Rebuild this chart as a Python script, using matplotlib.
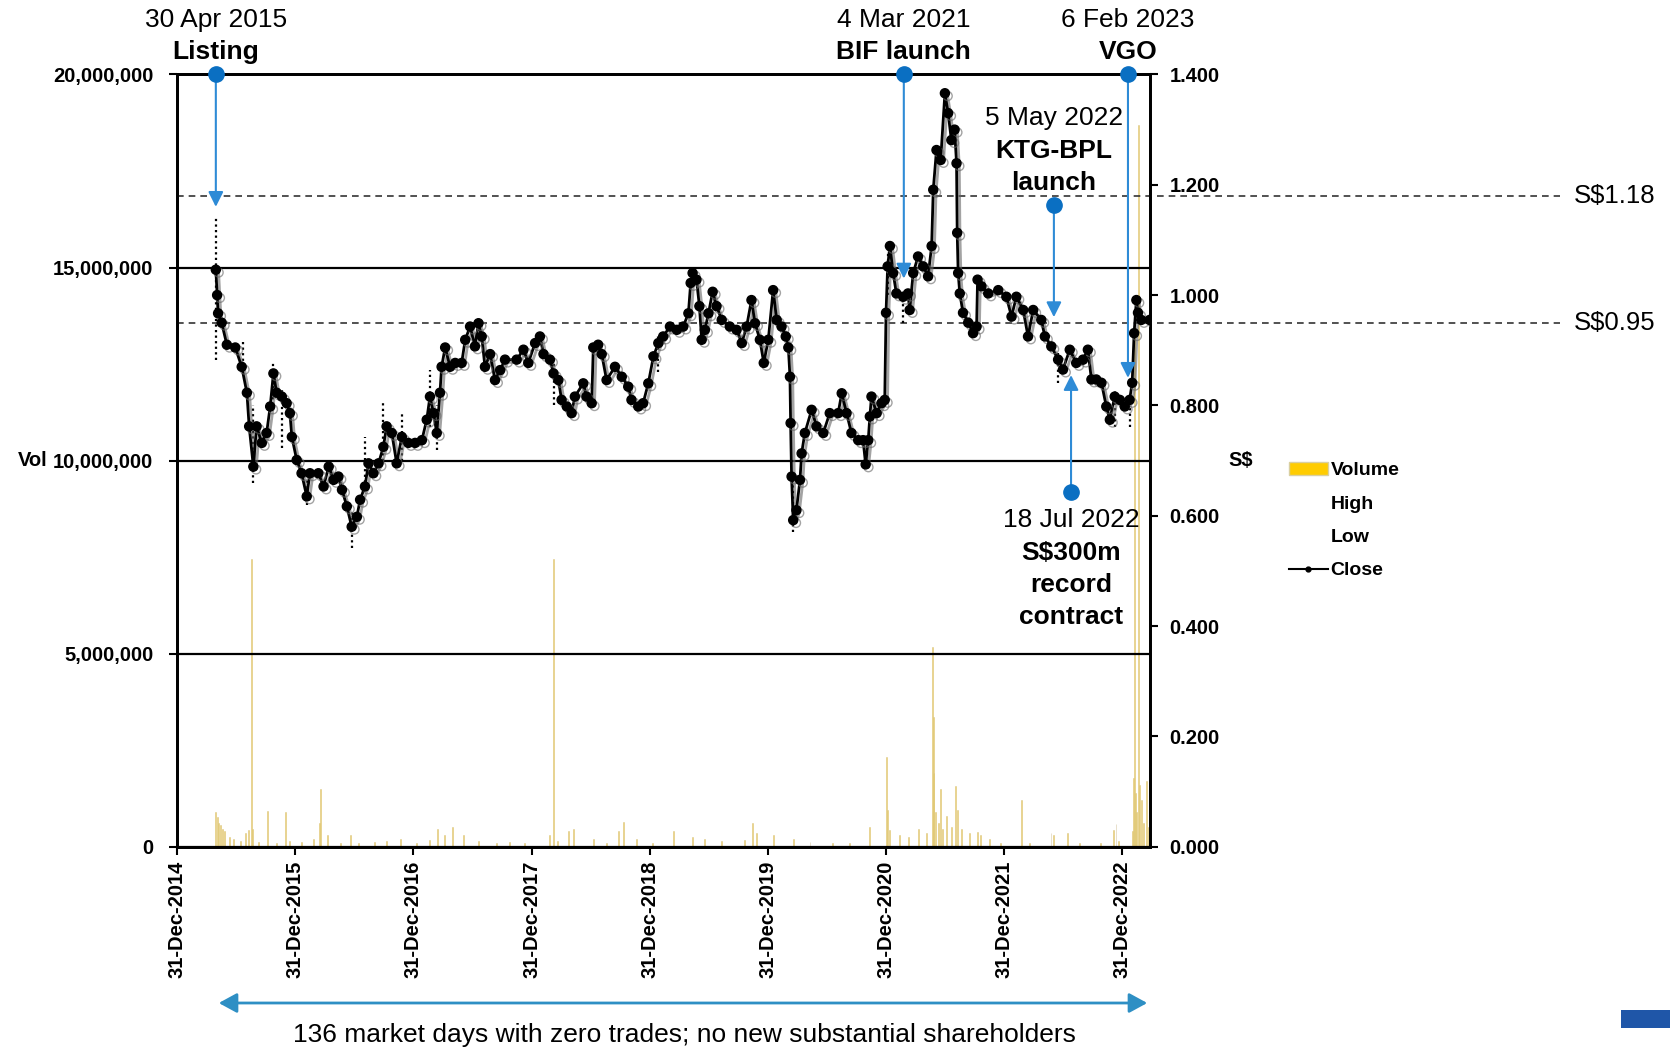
import matplotlib
matplotlib.use("Agg")
import matplotlib.pyplot as plt
import matplotlib.dates as mdates
import matplotlib.patheffects as pe
from matplotlib.lines import Line2D
from matplotlib.patches import Patch, Rectangle, FancyArrowPatch
from matplotlib.ticker import FuncFormatter
import pandas as pd

plt.rcParams["font.family"] = ["Liberation Sans", "DejaVu Sans"]

# ==================================
# DATA
# ==================================

close_dates = [
    "2015-04-30", "2015-05-04", "2015-05-07", "2015-05-18", "2015-06-03", "2015-06-29",
    "2015-07-19", "2015-08-04", "2015-08-11", "2015-08-24", "2015-09-03", "2015-09-19",
    "2015-10-04", "2015-10-15", "2015-10-25", "2015-11-04", "2015-11-20", "2015-12-05",
    "2015-12-15", "2015-12-21", "2016-01-05", "2016-01-20", "2016-02-05", "2016-02-15",
    "2016-03-12", "2016-03-28", "2016-04-13", "2016-04-28", "2016-05-13", "2016-05-24",
    "2016-06-08", "2016-06-23", "2016-07-09", "2016-07-19", "2016-08-03", "2016-08-14",
    "2016-08-29", "2016-09-14", "2016-09-29", "2016-10-09", "2016-10-25", "2016-11-09",
    "2016-11-25", "2016-12-15", "2017-01-05", "2017-01-26", "2017-02-10", "2017-02-20",
    "2017-03-03", "2017-03-13", "2017-03-23", "2017-03-28", "2017-04-08", "2017-04-23",
    "2017-05-09", "2017-05-29", "2017-06-09", "2017-06-24", "2017-07-09", "2017-07-20",
    "2017-07-30", "2017-08-09", "2017-08-25", "2017-09-09", "2017-09-25", "2017-10-10",
    "2017-11-15", "2017-12-06", "2017-12-21", "2018-01-11", "2018-01-26", "2018-02-06",
    "2018-02-26", "2018-03-09", "2018-03-24", "2018-04-03", "2018-04-19", "2018-05-04",
    "2018-05-14", "2018-06-09", "2018-06-19", "2018-07-05", "2018-07-10", "2018-07-25",
    "2018-08-05", "2018-08-20", "2018-09-15", "2018-10-06", "2018-10-26", "2018-11-05",
    "2018-11-26", "2018-12-11", "2018-12-27", "2019-01-12", "2019-01-27", "2019-02-11",
    "2019-03-04", "2019-03-25", "2019-04-14", "2019-04-30", "2019-05-07", "2019-05-13",
    "2019-05-25", "2019-06-03", "2019-06-10", "2019-06-20", "2019-07-01", "2019-07-14",
    "2019-07-26", "2019-08-11", "2019-09-05", "2019-09-26", "2019-10-12", "2019-10-27",
    "2019-11-11", "2019-11-22", "2019-12-07", "2019-12-19", "2020-01-02", "2020-01-17",
    "2020-01-28", "2020-02-12", "2020-02-25", "2020-03-04", "2020-03-09", "2020-03-11",
    "2020-03-14", "2020-03-19", "2020-03-29", "2020-04-09", "2020-04-14", "2020-04-24",
    "2020-05-15", "2020-05-30", "2020-06-20", "2020-07-10", "2020-08-05", "2020-08-16",
    "2020-08-31", "2020-09-15", "2020-10-06", "2020-10-21", "2020-10-29", "2020-11-06",
    "2020-11-11", "2020-11-16", "2020-12-02", "2020-12-17", "2020-12-27", "2020-12-31",
    "2021-01-05", "2021-01-12", "2021-01-22", "2021-02-01", "2021-02-22", "2021-03-09",
    "2021-03-14", "2021-03-25", "2021-04-09", "2021-04-25", "2021-05-10", "2021-05-21",
    "2021-05-26", "2021-06-05", "2021-06-18", "2021-07-01", "2021-07-11", "2021-07-21",
    "2021-07-31", "2021-08-06", "2021-08-08", "2021-08-11", "2021-08-16", "2021-08-26",
    "2021-09-11", "2021-09-26", "2021-10-07", "2021-10-10", "2021-10-22", "2021-11-12",
    "2021-12-13", "2022-01-07", "2022-01-23", "2022-02-07", "2022-02-28", "2022-03-15",
    "2022-03-31", "2022-04-25", "2022-05-06", "2022-05-26", "2022-06-16", "2022-07-01",
    "2022-07-22", "2022-08-11", "2022-09-01", "2022-09-16", "2022-09-27", "2022-10-12",
    "2022-10-28", "2022-11-12", "2022-11-23", "2022-12-08", "2022-12-24", "2023-01-08",
    "2023-01-23", "2023-01-31", "2023-02-06", "2023-02-13", "2023-02-18", "2023-02-28",
    "2023-03-26",
]

close_px = [
    1.046, 1.000, 0.967, 0.950, 0.910, 0.905,
    0.870, 0.823, 0.762, 0.689, 0.762, 0.732,
    0.750, 0.798, 0.858, 0.823, 0.816, 0.804,
    0.786, 0.743, 0.701, 0.677, 0.635, 0.677,
    0.677, 0.653, 0.689, 0.665, 0.671, 0.647,
    0.617, 0.580, 0.598, 0.629, 0.653, 0.695,
    0.677, 0.695, 0.725, 0.762, 0.750, 0.695,
    0.743, 0.732, 0.732, 0.737, 0.774, 0.816,
    0.786, 0.750, 0.823, 0.870, 0.905, 0.870,
    0.877, 0.877, 0.919, 0.943, 0.907, 0.949,
    0.925, 0.870, 0.893, 0.846, 0.864, 0.883,
    0.883, 0.901, 0.877, 0.913, 0.925, 0.893,
    0.883, 0.858, 0.846, 0.810, 0.798, 0.786,
    0.816, 0.840, 0.816, 0.804, 0.905, 0.910,
    0.893, 0.846, 0.870, 0.852, 0.834, 0.810,
    0.798, 0.804, 0.840, 0.889, 0.913, 0.925,
    0.943, 0.937, 0.943, 0.967, 1.022, 1.040,
    1.028, 0.980, 0.919, 0.937, 0.967, 1.006,
    0.980, 0.955, 0.943, 0.937, 0.913, 0.943,
    0.991, 0.949, 0.919, 0.877, 0.919, 1.009,
    0.955, 0.943, 0.925, 0.905, 0.852, 0.768,
    0.671, 0.592, 0.610, 0.665, 0.713, 0.750,
    0.792, 0.762, 0.750, 0.786, 0.786, 0.822,
    0.786, 0.750, 0.737, 0.737, 0.693, 0.737,
    0.780, 0.816, 0.786, 0.804, 0.810, 0.968,
    1.052, 1.089, 1.040, 1.003, 0.997, 1.003,
    0.973, 1.040, 1.070, 1.052, 1.034, 1.089,
    1.191, 1.263, 1.245, 1.366, 1.330, 1.281,
    1.300, 1.239, 1.113, 1.040, 1.003, 0.968,
    0.950, 0.931, 0.943, 1.028, 1.016, 1.003,
    1.009, 0.997, 0.961, 0.997, 0.973, 0.925,
    0.973, 0.955, 0.925, 0.907, 0.883, 0.865,
    0.901, 0.877, 0.883, 0.901, 0.847, 0.847,
    0.841, 0.798, 0.774, 0.816, 0.810, 0.798,
    0.810, 0.841, 0.931, 0.991, 0.968, 0.955,
    0.955,
]

hl_dates = [
    "2015-04-30", "2015-07-22", "2015-08-24", "2015-10-25", "2015-11-20", "2016-02-05",
    "2016-06-23", "2016-08-03", "2016-09-29", "2016-11-25", "2017-02-20", "2017-03-13",
    "2018-03-09", "2019-01-27", "2020-03-19", "2021-01-05", "2021-02-22", "2022-06-16",
    "2022-12-08", "2023-01-23",
]
high_px = [
    1.140, 0.919, 0.800, 0.880, 0.830, 0.680,
    0.610, 0.743, 0.810, 0.790, 0.865, 0.800,
    0.880, 0.930, 0.670, 1.100, 1.010, 0.900,
    0.830, 0.820,
]
low_px = [
    0.883, 0.860, 0.660, 0.800, 0.723, 0.620,
    0.542, 0.650, 0.700, 0.700, 0.760, 0.720,
    0.800, 0.860, 0.570, 1.000, 0.950, 0.840,
    0.760, 0.760,
]

vol_dates = [
    "2015-04-30", "2015-05-04", "2015-05-08", "2015-05-14", "2015-05-21", "2015-05-28",
    "2015-06-10", "2015-06-25", "2015-07-15", "2015-07-30", "2015-08-10", "2015-08-17",
    "2015-08-20", "2015-09-10", "2015-10-07", "2015-11-05", "2015-12-02", "2015-12-15",
    "2016-01-20", "2016-02-25", "2016-03-14", "2016-03-18", "2016-04-10", "2016-05-20",
    "2016-06-20", "2016-07-15", "2016-09-01", "2016-10-10", "2016-11-20", "2017-01-10",
    "2017-02-20", "2017-03-15", "2017-04-05", "2017-05-02", "2017-06-05", "2017-07-20",
    "2017-09-15", "2017-10-25", "2017-12-10", "2018-02-25", "2018-03-08", "2018-03-20",
    "2018-04-25", "2018-05-10", "2018-07-10", "2018-08-20", "2018-09-25", "2018-10-12",
    "2018-11-20", "2019-01-10", "2019-03-15", "2019-05-13", "2019-06-20", "2019-08-10",
    "2019-10-20", "2019-11-15", "2019-11-28", "2020-01-17", "2020-03-19", "2020-05-10",
    "2020-07-20", "2020-09-10", "2020-11-10", "2020-12-31", "2021-01-05", "2021-01-12",
    "2021-02-10", "2021-03-10", "2021-04-09", "2021-05-05", "2021-05-24", "2021-05-26",
    "2021-05-28", "2021-06-01", "2021-06-10", "2021-06-18", "2021-06-25", "2021-07-05",
    "2021-07-20", "2021-08-04", "2021-08-10", "2021-08-20", "2021-09-15", "2021-10-10",
    "2021-10-20", "2021-11-15", "2021-12-20", "2022-02-23", "2022-03-20", "2022-05-25",
    "2022-06-01", "2022-07-15", "2022-08-20", "2022-10-25", "2022-12-05", "2022-12-12",
    "2022-12-20", "2023-01-31", "2023-02-03", "2023-02-06", "2023-02-10", "2023-02-14",
    "2023-02-20", "2023-02-23", "2023-03-01", "2023-03-08", "2023-03-15", "2023-03-22",
]
vol_values = [
    900000, 780000, 620000, 550000, 450000, 400000,
    250000, 200000, 150000, 350000, 420000, 7450000,
    450000, 120000, 920000, 100000, 900000, 150000,
    120000, 200000, 600000, 1500000, 300000, 100000,
    300000, 100000, 120000, 150000, 200000, 100000,
    180000, 450000, 300000, 500000, 300000, 150000,
    100000, 120000, 100000, 300000, 7450000, 150000,
    400000, 450000, 200000, 100000, 400000, 650000,
    200000, 100000, 400000, 250000, 200000, 150000,
    180000, 620000, 350000, 300000, 200000, 120000,
    100000, 100000, 500000, 2310000, 950000, 430000,
    300000, 250000, 450000, 350000, 5160000, 3370000,
    1900000, 900000, 600000, 1490000, 450000, 800000,
    500000, 1560000, 950000, 450000, 350000, 390000,
    300000, 200000, 100000, 1210000, 100000, 350000,
    300000, 350000, 100000, 100000, 420000, 590000,
    150000, 400000, 1770000, 13500000, 1400000, 900000,
    18700000, 1600000, 1200000, 600000, 1700000, 500000,
]

year_ticks = [
    "2014-12-31", "2015-12-31", "2016-12-31", "2017-12-31", "2018-12-31",
    "2019-12-31", "2020-12-31", "2021-12-31", "2022-12-31",
]

ref_levels = [1.18, 0.95]
ref_labels = ["S$1.18", "S$0.95"]

# (x date, circle price, arrow tip price)
events = [
    ("2015-04-30", 1.400, 1.160),
    ("2021-02-24", 1.400, 1.030),
    ("2023-01-18", 1.400, 0.850),
    ("2022-06-03", 1.163, 0.960),
    ("2022-07-26", 0.643, 0.855),
]

# ==================================
# FIGURE
# ==================================

fig = plt.figure(figsize=(16.7, 10.49), dpi=100)
ax = fig.add_axes([0.1060, 0.1929, 0.5826, 0.7361])
ax2 = ax.twinx()

vd = pd.to_datetime(vol_dates)
cd = pd.to_datetime(close_dates)
hd = pd.to_datetime(hl_dates)

# volume
ax.bar(
    vd,
    vol_values,
    width=3,
    color="#FFCC00",
    edgecolor="#D6C8A4",
    linewidth=0.4,
    zorder=1
)

ax.set_ylim(0, 20000000)
ax.set_yticks([0, 5000000, 10000000, 15000000, 20000000])
ax.yaxis.set_major_formatter(FuncFormatter(lambda v, p: f"{v:,.0f}"))
ax.yaxis.grid(True, color="black", linewidth=1.6)
ax.set_axisbelow(False)

ax.set_xlim(pd.Timestamp("2014-12-31"), pd.Timestamp("2023-03-27"))
ax.set_xticks(pd.to_datetime(year_ticks))
ax.xaxis.set_major_formatter(mdates.DateFormatter("%d-%b-%Y"))

# price
ax2.set_ylim(0, 1.4)
ax2.set_yticks([0.0, 0.2, 0.4, 0.6, 0.8, 1.0, 1.2, 1.4])
ax2.yaxis.set_major_formatter(FuncFormatter(lambda v, p: f"{v:.3f}"))

ax2.vlines(hd, low_px, high_px, colors="black", linestyles=(0, (1, 1.5)), linewidth=1.6, zorder=3)

ax2.plot(
    cd,
    close_px,
    color="black",
    linewidth=2,
    marker="o",
    markersize=6.5,
    zorder=4,
    path_effects=[
        pe.SimpleLineShadow(offset=(2, -2), shadow_color="#666666", alpha=0.6),
        pe.Normal()
    ]
)

for lvl, lab in zip(ref_levels, ref_labels):
    ax2.plot(
        [0, 1.4214],
        [lvl, lvl],
        transform=ax2.get_yaxis_transform(),
        color="#333333",
        linewidth=1.2,
        linestyle=(0, (4, 3)),
        clip_on=False,
        zorder=2
    )
    ax2.text(
        1.436, lvl, lab,
        transform=ax2.get_yaxis_transform(),
        ha="left", va="center", fontsize=18.5
    )

# ticks and spines
for a in (ax, ax2):
    for s in a.spines.values():
        s.set_linewidth(2)

ax.tick_params(axis="y", length=6, width=1.5, pad=11, labelsize=14.5)
ax.tick_params(axis="x", length=6, width=1.5, pad=4, labelsize=14.5, labelrotation=90)
ax2.tick_params(axis="y", length=6, width=1.5, pad=8, labelsize=14.5)

for lbl in ax.get_yticklabels() + ax.get_xticklabels() + ax2.get_yticklabels():
    lbl.set_fontweight("bold")

# ==================================
# EVENT MARKERS
# ==================================

blue = "#0A6FC2"
for d, y0, y1 in events:
    x = pd.Timestamp(d)
    ax2.annotate(
        "",
        xy=(x, y1),
        xytext=(x, y0),
        arrowprops=dict(
            arrowstyle="-|>,head_length=0.9,head_width=0.45",
            color="#2E8BD6",
            linewidth=1.5,
            shrinkA=0,
            shrinkB=0
        ),
        annotation_clip=False,
        zorder=5
    )
    ax2.plot([x], [y0], marker="o", markersize=11, color=blue, clip_on=False, zorder=6)

top_labels = [
    ("2015-04-30", "30 Apr 2015", "Listing"),
    ("2021-02-24", "4 Mar 2021", "BIF launch"),
    ("2023-01-18", "6 Feb 2023", "VGO"),
]
for d, l1, l2 in top_labels:
    x = pd.Timestamp(d)
    ax2.text(x, 1.499, l1, ha="center", va="center", fontsize=19)
    ax2.text(x, 1.440, l2, ha="center", va="center", fontsize=19, fontweight="bold")

x = pd.Timestamp("2022-06-03")
ax2.text(x, 1.321, "5 May 2022", ha="center", va="center", fontsize=19)
ax2.text(x, 1.262, "KTG-BPL", ha="center", va="center", fontsize=19, fontweight="bold")
ax2.text(x, 1.204, "launch", ha="center", va="center", fontsize=19, fontweight="bold")

x = pd.Timestamp("2022-07-26")
ax2.text(x, 0.592, "18 Jul 2022", ha="center", va="center", fontsize=19)
ax2.text(x, 0.532, "S$300m", ha="center", va="center", fontsize=19, fontweight="bold")
ax2.text(x, 0.474, "record", ha="center", va="center", fontsize=19, fontweight="bold")
ax2.text(x, 0.417, "contract", ha="center", va="center", fontsize=19, fontweight="bold")

# axis captions
fig.text(18 / 1670, 1 - 461 / 1049, "Vol", ha="left", va="center", fontsize=14.5, fontweight="bold")
fig.text(1241 / 1670, 1 - 461 / 1049, "S$", ha="center", va="center", fontsize=14.5, fontweight="bold")

# legend
handles = [
    Patch(facecolor="#FFCC00", edgecolor="#D9CFA0"),
    Line2D([], [], color="none"),
    Line2D([], [], color="none"),
    Line2D([], [], color="black", linewidth=1.5, marker="o", markersize=3.5),
]
leg = fig.legend(
    handles,
    ["Volume", "High", "Low", "Close"],
    loc="upper left",
    bbox_to_anchor=(1279 / 1670, 1 - 452 / 1049),
    frameon=False,
    borderpad=0,
    handlelength=2.0,
    handletextpad=0.15,
    labelspacing=0.81,
    prop={"size": 14, "weight": "bold"}
)

# bottom span arrow
fig.patches.append(
    FancyArrowPatch(
        (216 / 1670, 1 - 1003 / 1049),
        (1150 / 1670, 1 - 1003 / 1049),
        transform=fig.transFigure,
        arrowstyle="<|-|>,head_length=0.55,head_width=0.3",
        color="#2E8FC4",
        linewidth=2,
        mutation_scale=20
    )
)
fig.text(
    684 / 1670, 1 - 1035 / 1049,
    "136 market days with zero trades; no new substantial shareholders",
    ha="center", va="center", fontsize=19,
    family=["Liberation Sans Narrow", "Liberation Sans", "DejaVu Sans"]
)

# clipped logo band in the corner
fig.patches.append(
    Rectangle((1621 / 1670, 1 - 1028 / 1049), 49 / 1670, 18 / 1049,
              transform=fig.transFigure, facecolor="#1F56A8", edgecolor="none")
)

plt.savefig("out.png", dpi=100)
plt.close()
